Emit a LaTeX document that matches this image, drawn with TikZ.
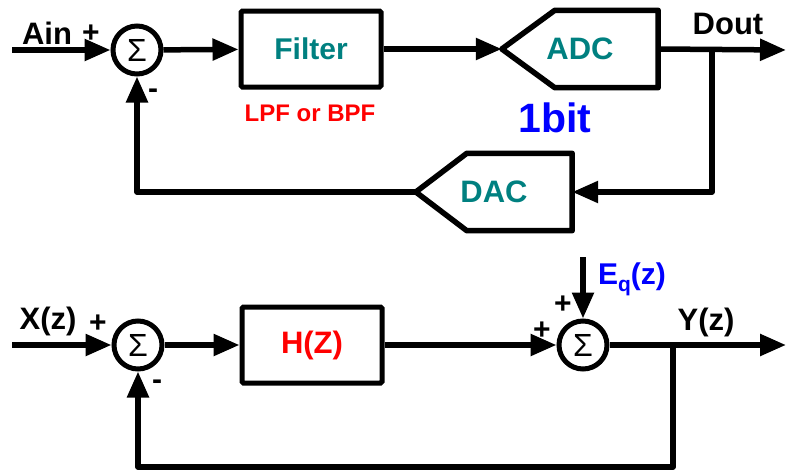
\documentclass[tikz,border=0pt]{standalone}
\usepackage{fontspec}
\setmainfont{Liberation Sans}
\usetikzlibrary{
    positioning,
    arrows.meta,
    calc
}
\definecolor{tealtext}{RGB}{0,128,128}
\definecolor{redtext}{RGB}{255,0,0}
\definecolor{bluetext}{RGB}{0,0,255}
\tikzset{
    >={Triangle[length=26pt,width=21pt]},
    wire/.style={line width=5.5pt, line join=round},
    arr/.style={wire, ->},
    sumnode/.style={
        circle, draw, line width=5pt,
        minimum size=48pt, inner sep=0pt,
        font=\fontsize{32}{32}\selectfont
    },
    blockbox/.style={
        rectangle, draw, line width=5pt, rounded corners=1.5pt,
        minimum width=140pt, minimum height=76pt
    },
    convbox/.style={
        rectangle, minimum width=156pt, minimum height=77pt,
        inner sep=0pt
    },
    lbl/.style={font=\fontsize{31}{31}\selectfont\bfseries, inner sep=0pt},
    sign/.style={font=\fontsize{30}{30}\selectfont\bfseries, inner sep=0pt}
}

\begin{document}
\begin{tikzpicture}[
    x=1pt, y=-1pt
]
    \useasboundingbox (0,0) rectangle (787,471);

    % Modulador (arriba)
    \coordinate (ain)  at (12,50);
    \node[sumnode]  (sum1)   at (137,50)  {Σ};
    \node[blockbox, text=tealtext, font=\fontsize{30}{30}\selectfont\bfseries]
                    (filter) at (311,49)  {Filter};
    \node[convbox, text=tealtext, font=\fontsize{31}{31}\selectfont\bfseries]
                    (adc)    at (580,49)  {ADC};
    \node[convbox, text=tealtext, font=\fontsize{31}{31}\selectfont\bfseries]
                    (dac)    at (494,192) {DAC};
    \coordinate (dout) at (786,50);
    \coordinate (br1)  at (712,50);

    % Convertidores
    \draw[wire] (adc.west) -- ($(adc.north west)+(53,0)$) -- (adc.north east)
        -- (adc.south east) -- ($(adc.south west)+(53,0)$) -- cycle;
    \draw[wire] (dac.west) -- ($(dac.north west)+(51,0)$) -- (dac.north east)
        -- (dac.south east) -- ($(dac.south west)+(51,0)$) -- cycle;

    % Conexiones
    \draw[arr] (ain) -- (sum1);
    \draw[arr] (sum1) -- (filter);
    \draw[arr] (filter) -- (adc.west);
    \draw[arr] (adc.east) -- (dout);
    \draw[arr] (br1) |- (dac.east);
    \draw[arr] (dac.west) -| (sum1.south);

    % Etiquetas
    \node[lbl]  (ainlbl)  at (47,33)   {Ain};
    \node[sign] (plus1)   at (91,34)   {+};
    \node[sign] (minus1)  at (153,94)  {-};
    \node[lbl]  (doutlbl) at (728,24)  {Dout};
    \node[font=\fontsize{24}{24}\selectfont\bfseries, text=redtext, inner sep=0pt]
                (lpf)     at (310,113) {LPF or BPF};
    \node[font=\fontsize{41}{41}\selectfont\bfseries, text=bluetext, inner sep=0pt]
                (bits)    at (555,118) {1bit};

    % Modelo lineal (abajo)
    \coordinate (xin)  at (12,345);
    \node[sumnode]  (sum2) at (138,345) {Σ};
    \node[blockbox, text=redtext, font=\fontsize{31}{31}\selectfont\bfseries]
                    (hz)   at (312,345) {H(Z)};
    \node[sumnode]  (sum3) at (583,345) {Σ};
    \coordinate (eq)   at (583,257);
    \coordinate (yout) at (786,345);
    \coordinate (br2)  at (673,345);
    \coordinate (fb2)  at (673,467);

    % Conexiones
    \draw[arr] (xin) -- (sum2);
    \draw[arr] (sum2) -- (hz);
    \draw[arr] (hz) -- (sum3);
    \draw[arr] (eq) -- (sum3);
    \draw[arr] (sum3) -- (yout);
    \draw[arr] (br2) -- (fb2) -| (sum2.south);

    % Etiquetas
    \node[lbl]  (xlbl)   at (48,321)  {X(z)};
    \node[sign] (plus2)  at (98,324)  {+};
    \node[sign] (minus2) at (157,385) {-};
    \node[sign] (plus3)  at (563,305) {+};
    \node[sign] (plus4)  at (542,331) {+};
    \node[lbl, text=bluetext, font=\fontsize{30}{30}\selectfont\bfseries]
                (eqlbl)  at (632,279) {E\raisebox{-7pt}{\fontsize{21}{21}\selectfont q}(z)};
    \node[lbl]  (ylbl)   at (706,322) {Y(z)};

\end{tikzpicture}
\end{document}
